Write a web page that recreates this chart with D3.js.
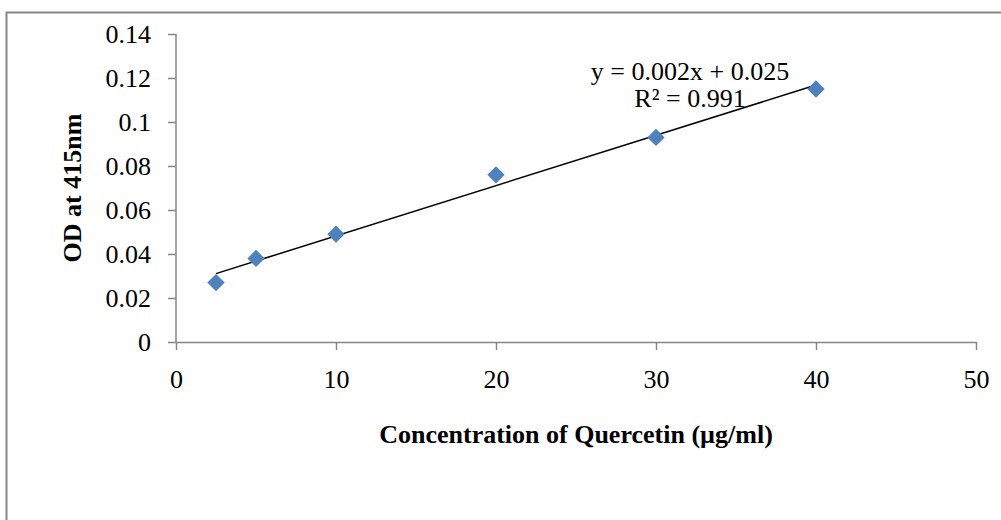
<!DOCTYPE html>
<html>
<head>
<meta charset="utf-8">
<script src="https://cdn.jsdelivr.net/npm/d3@7"></script>
<style>
  body { margin: 0; background: #fff; }
  text { font-family: "Liberation Serif", "Times New Roman", serif; }
</style>
</head>
<body>
<div id="chart"></div>
<script>
// concentration (µg/ml) and OD readings
var conc = [2.5, 5, 10, 20, 30, 40];
var od = [0.027, 0.038, 0.049, 0.076, 0.093, 0.115];
var xTicks = [0, 10, 20, 30, 40, 50];
var yTicks = [0, 0.02, 0.04, 0.06, 0.08, 0.1, 0.12, 0.14];

var width = 1001, height = 520;
var margin = {left: 176, right: 25, top: 34, bottom: 178};

var svg = d3.select("#chart")
    .append("svg")
    .attr("width", width)
    .attr("height", height);

// outer frame
svg.append("rect")
    .attr("x", 6.5).attr("y", 12.5)
    .attr("width", 1010).attr("height", 520)
    .attr("fill", "none")
    .attr("stroke", "#868686")
    .attr("stroke-width", 2);

var x = d3.scaleLinear().domain([0, 50]).range([margin.left, width - margin.right]);
var y = d3.scaleLinear().domain([0, 0.14]).range([height - margin.bottom, margin.top]);

var xAxis = svg.append("g")
    .attr("transform", "translate(0," + y(0) + ")")
    .call(d3.axisBottom(x).tickValues(xTicks).tickSize(8).tickPadding(20)
        .tickFormat(d3.format("d")).tickSizeOuter(0));

var yAxis = svg.append("g")
    .attr("transform", "translate(" + x(0) + ",0)")
    .call(d3.axisLeft(y).tickValues(yTicks).tickSize(8).tickPadding(17)
        .tickFormat(function(d) { return d === 0 ? "0" : d3.format("")(+d.toFixed(2)); })
        .tickSizeOuter(0));

[xAxis, yAxis].forEach(function(g) {
    g.selectAll("path, line").attr("stroke", "#868686").attr("stroke-width", 1.5);
    g.selectAll("text")
        .attr("fill", "#000")
        .style("font-family", "'Liberation Serif', 'Times New Roman', serif")
        .style("font-size", "26px");
});
yAxis.select(".domain").attr("d", "M0," + y(0.14) + "V" + y(0));

// least squares trend line
var mx = d3.mean(conc), my = d3.mean(od);
var sxy = d3.sum(conc, function(c, i) { return (c - mx) * (od[i] - my); });
var sxx = d3.sum(conc, function(c) { return (c - mx) * (c - mx); });
var slope = sxy / sxx, icpt = my - slope * mx;
var x0 = d3.min(conc), x1 = d3.max(conc);

svg.append("line")
    .attr("x1", x(x0)).attr("y1", y(slope * x0 + icpt))
    .attr("x2", x(x1)).attr("y2", y(slope * x1 + icpt))
    .attr("stroke", "#000")
    .attr("stroke-width", 1.5);

svg.selectAll(".pt")
    .data(conc)
    .enter()
    .append("path")
    .attr("class", "pt")
    .attr("d", d3.symbol().type(d3.symbolSquare).size(150))
    .attr("transform", function(d, i) {
        return "translate(" + x(d) + "," + y(od[i]) + ") rotate(45)";
    })
    .attr("fill", "#4F81BD");

svg.append("text")
    .attr("x", 690).attr("y", 80)
    .attr("text-anchor", "middle")
    .style("font-size", "26px")
    .text("y = 0.002x + 0.025");

svg.append("text")
    .attr("x", 690).attr("y", 107)
    .attr("text-anchor", "middle")
    .style("font-size", "26px")
    .text("R² = 0.991");

svg.append("text")
    .attr("x", 576).attr("y", 443)
    .attr("text-anchor", "middle")
    .style("font-size", "26px")
    .style("font-weight", "bold")
    .text("Concentration of Quercetin (µg/ml)");

svg.append("text")
    .attr("transform", "translate(81," + (y(0.07)) + ") rotate(-90)")
    .attr("text-anchor", "middle")
    .style("font-size", "26px")
    .style("font-weight", "bold")
    .text("OD at 415nm");
</script>
</body>
</html>
